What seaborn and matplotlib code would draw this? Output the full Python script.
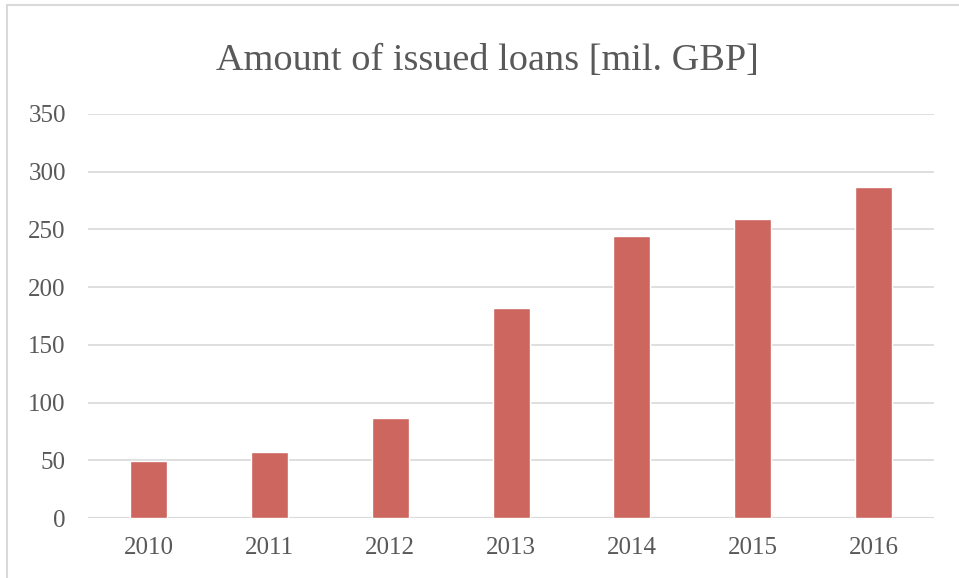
import pandas as pd
import numpy as np
import matplotlib.pyplot as plt
import seaborn as sns
from matplotlib.patches import Rectangle

# data
years = ["2010", "2011", "2012", "2013", "2014", "2015", "2016"]
loans = [49, 57.5, 87, 182, 244, 259, 287]
yticks = [0, 50, 100, 150, 200, 250, 300, 350]

df = pd.DataFrame({"year": years, "loans": loans})

sns.set_style("white")
plt.rcParams["font.family"] = ["Liberation Serif", "DejaVu Serif"]

text_col = "#595959"
grid_col = "#D9D9D9"

fig = plt.figure(figsize=(9.59, 5.78), dpi=100)
ax = fig.add_axes([0.0918, 0.1038, 0.8822, 0.699])

sns.barplot(data=df, x="year", y="loans", color="#CD665E", width=0.306,
            saturation=1, ax=ax, zorder=3)

ax.set_ylim(0, 350)
ax.set_yticks(yticks)
ax.set_xlim(-0.5, len(years) - 0.5)
ax.yaxis.grid(True, color=grid_col, linewidth=1.2, zorder=0)
ax.set_axisbelow(True)
for s in ax.spines.values():
    s.set_visible(False)
ax.axhline(0, color=grid_col, linewidth=1.5, zorder=2)

ax.set_xlabel("")
ax.set_ylabel("")
ax.tick_params(axis="both", length=0, labelsize=18, labelcolor=text_col)
ax.tick_params(axis="y", pad=16)
ax.tick_params(axis="x", pad=14)

fig.text(0.508, 0.895, "Amount of issued loans [mil. GBP]", ha="center", va="center",
         fontsize=27.5, color=text_col)

# chart frame (cut off on right and bottom)
fig.patches.append(Rectangle((7 / 959, -0.05), 1.05, 1.05 - 5 / 578,
                             transform=fig.transFigure, fill=False,
                             edgecolor=grid_col, linewidth=1.5))

fig.savefig("out.png", dpi=100)
